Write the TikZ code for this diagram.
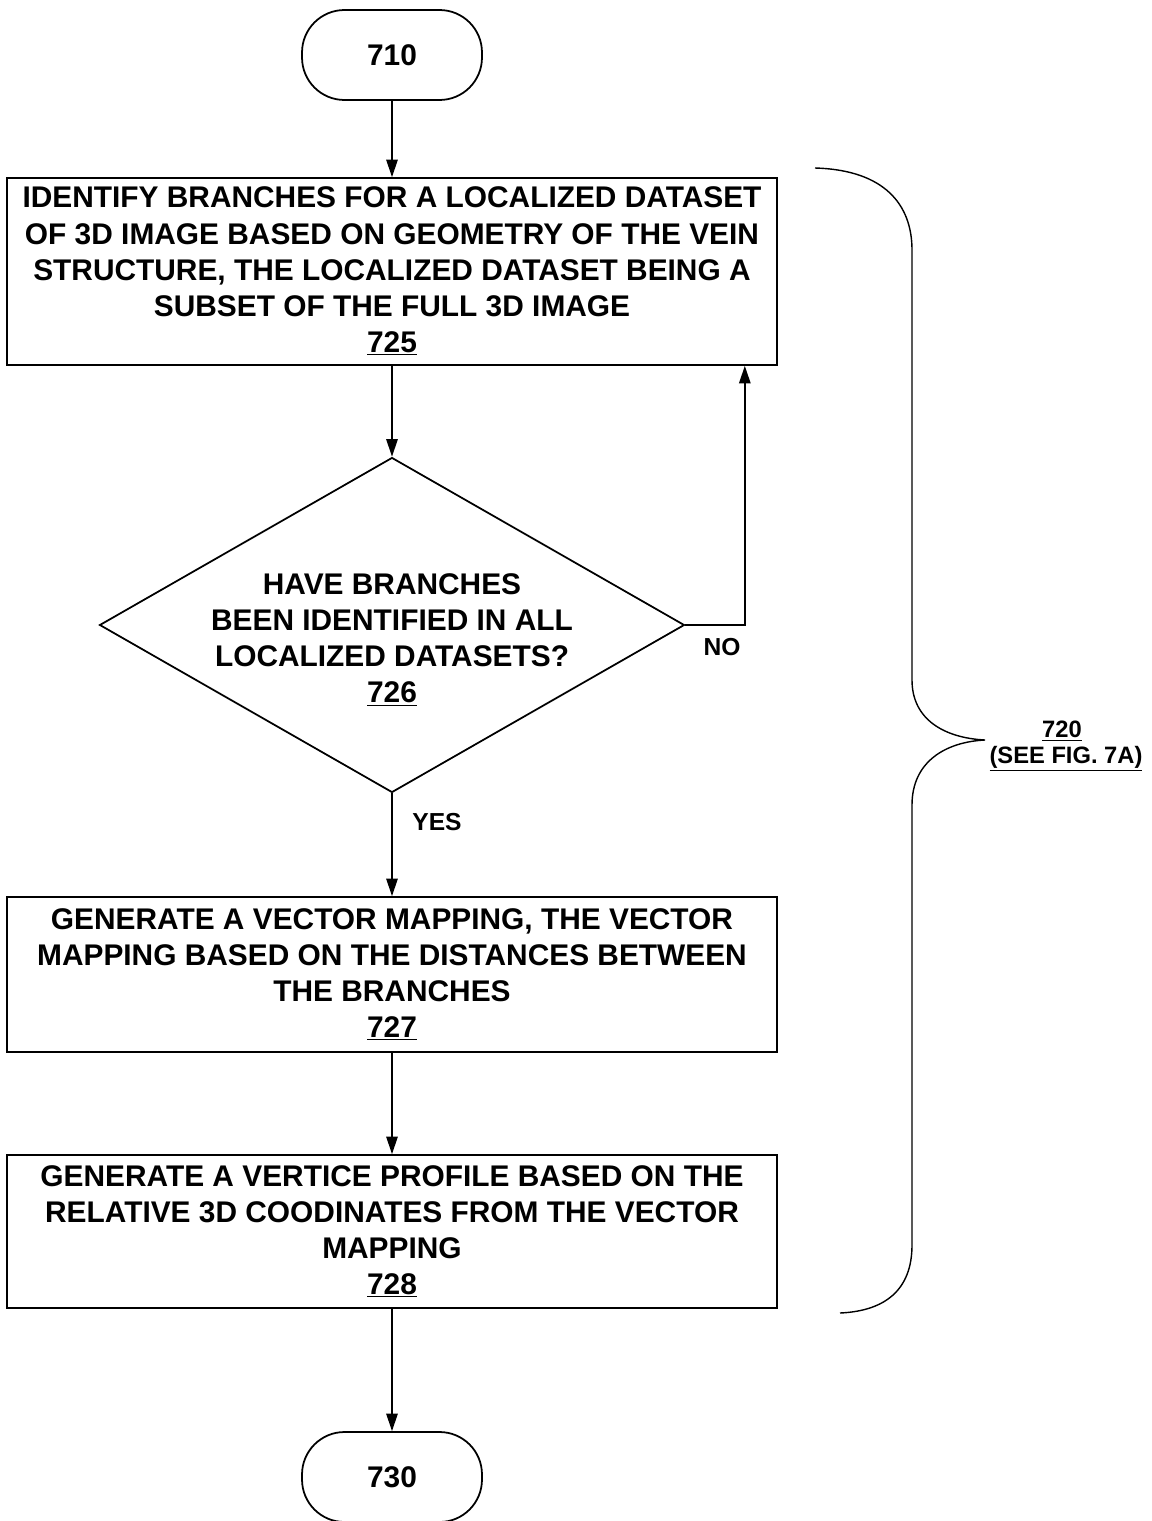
\documentclass[tikz,border=0pt]{standalone}
\usepackage{fontspec}
\setmainfont{Liberation Sans}
\usetikzlibrary{shapes.geometric, arrows.meta, positioning}

\begin{document}
\begin{tikzpicture}[x=0.02cm, y=-0.02cm,
    txt/.style={font=\bfseries\fontsize{17}{20.5}\selectfont, align=center},
    terminal/.style={draw, line width=1pt, rounded corners=0.85cm,
        minimum width=3.6cm, minimum height=1.8cm, txt},
    stepbox/.style={draw, line width=1pt, minimum width=15.4cm,
        inner sep=0pt, txt},
    decision/.style={draw, line width=1pt, diamond, inner sep=0pt,
        minimum width=11.7cm, minimum height=6.7cm},
    flow/.style={line width=1pt, -{Triangle[length=10pt, width=6.5pt]}},
    tag/.style={font=\bfseries\fontsize{14}{16}\selectfont},
    ref/.style={font=\bfseries\fontsize{13.5}{15}\selectfont}]
    \useasboundingbox (0,0) rectangle (1152,1521);
    % Start / end
    \node[terminal] (t710) at (392,55) {710};
    \node[terminal] (t730) at (392,1477) {730};
    % Steps
    \node[stepbox, minimum height=3.74cm] (b725) at (392,271.5)
        {IDENTIFY BRANCHES FOR A LOCALIZED DATASET\\
         OF 3D IMAGE BASED ON GEOMETRY OF THE VEIN\\
         STRUCTURE, THE LOCALIZED DATASET BEING A\\
         SUBSET OF THE FULL 3D IMAGE\\ \underline{725}};
    \node[decision] (dec) at (392,625) {};
    \node[txt] (dectxt) at (392,640)
        {HAVE BRANCHES\\ BEEN IDENTIFIED IN ALL\\
         LOCALIZED DATASETS?\\ \underline{726}};
    \node[stepbox, minimum height=3.1cm] (b727) at (392,974.5)
        {GENERATE A VECTOR MAPPING, THE VECTOR\\
         MAPPING BASED ON THE DISTANCES BETWEEN\\
         THE BRANCHES\\ \underline{727}};
    \node[stepbox, minimum height=3.06cm] (b728) at (392,1231.5)
        {GENERATE A VERTICE PROFILE BASED ON THE\\
         RELATIVE 3D COODINATES FROM THE VECTOR\\
         MAPPING\\ \underline{728}};
    % Connectors
    \draw[flow] (t710) -- (b725);
    \draw[flow] (b725) -- (dec);
    \draw[flow] (dec.east) -| ([xshift=-0.66cm]b725.south east);
    \draw[flow] (dec) -- (b727);
    \draw[flow] (b727) -- (b728);
    \draw[flow] (b728) -- (t730);
    \node[tag] (no) at (722,647) {NO};
    \node[tag] (yes) at (437,822) {YES};
    % Brace 720
    \draw[line width=0.8pt] (815,168) .. controls (885,170) and (912,205) .. (912,250)
        -- (912,680) .. controls (912,720) and (945,738) .. (985,740)
        .. controls (945,742) and (912,762) .. (912,805)
        -- (912,1245) .. controls (912,1290) and (885,1311) .. (840,1313);
    \node[ref] (r720) at (1062,731) {\underline{720}};
    \node[ref] (see) at (1066,759) {\underline{(SEE FIG. 7A)}};
\end{tikzpicture}
\end{document}
